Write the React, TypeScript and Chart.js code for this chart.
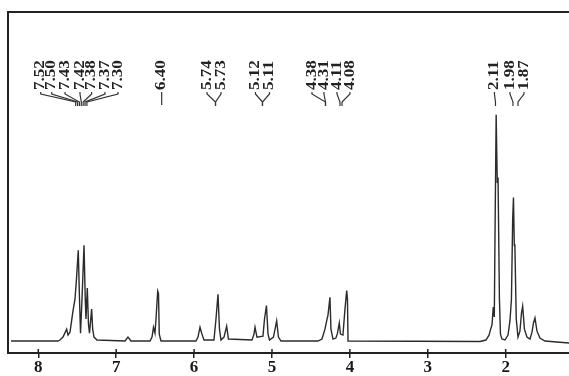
import React, { useEffect, useRef } from 'react';
import { Chart, registerables } from 'chart.js';

Chart.register(...registerables);

// Chemical shift (ppm) of each traced point of the spectrum
const shifts = [
  8.35, 7.747, 7.722, 7.683, 7.636, 7.619, 7.593, 7.555, 7.529, 7.51, 7.487, 7.471, 7.458, 7.439,
  7.413, 7.397, 7.388, 7.371, 7.356, 7.343, 7.315, 7.302, 7.285, 7.246, 6.887, 6.849, 6.81,
  6.566, 6.54, 6.521, 6.502, 6.489, 6.467, 6.457, 6.447, 6.425,
  5.976, 5.95, 5.924, 5.899, 5.873, 5.745, 5.719, 5.693, 5.674, 5.655, 5.616, 5.582, 5.559,
  5.257, 5.231, 5.218, 5.193, 5.116, 5.096, 5.071, 5.051, 5.032, 4.981, 4.94, 4.917, 4.885,
  4.41, 4.358, 4.32, 4.298, 4.281, 4.256, 4.243, 4.217, 4.179, 4.159, 4.136, 4.121, 4.089,
  4.063, 4.041, 4.031, 4.024, 4.012,
  2.33, 2.253, 2.214, 2.193, 2.176, 2.159, 2.146, 2.135, 2.122, 2.108, 2.098, 2.08, 2.067,
  2.048, 2.009, 1.97, 1.945, 1.926, 1.91, 1.9, 1.889, 1.882, 1.864, 1.842, 1.817, 1.797,
  1.782, 1.759, 1.727, 1.688, 1.662, 1.643, 1.624, 1.598, 1.56, 1.496, 1.187,
];

// Signal intensity (arbitrary units) at each traced point
const intensities = [
  0, 0, 0.3, 1.2, 3.6, 1.8, 2.7, 9.1, 12.7, 18.8, 27.6, 12.7, 2.4, 12.7,
  29.1, 12.7, 6.7, 16.1, 5.2, 2.4, 9.7, 3.6, 1.2, 0.3, 0, 1.2, 0,
  0, 1.2, 4.2, 2.4, 6.7, 15.2, 14.5, 2.1, 0,
  0, 1.2, 4.2, 2.1, 0.3, 0.3, 6.7, 14.2, 3.6, 0.3, 1.2, 4.5, 0.6,
  0.3, 2.1, 4.2, 1.2, 1.5, 6.7, 10.8, 2.1, 0.3, 1.2, 6.1, 1.2, 0,
  0, 0.6, 3.6, 6.1, 7.9, 13.3, 3.6, 0.6, 0.9, 2.4, 5.5, 2.1, 1.8,
  9.7, 15.3, 12.7, 0, 0,
  -0.15, 0.3, 1.8, 3.6, 4.8, 10.3, 7.3, 37, 68.8, 48, 49.7, 12.7, 2.1,
  0.6, 0.3, 1.8, 6.1, 12.7, 37, 43.6, 29, 29.4, 6.7, 1.2, 3.0, 8.5,
  10.6, 3.6, 1.2, 0.6, 2.7, 5.5, 7.0, 3.0, 0.9, 0, -0.6,
];

const xTicks = [8, 7, 6, 5, 4, 3, 2];

// Peak-pick labels, where each label text sits (ppm) and where its leader line ends (ppm)
const peakLabels = ['7.52', '7.50', '7.43', '7.42', '7.38', '7.37', '7.30', '6.40', '5.74', '5.73', '5.12', '5.11', '4.38', '4.31', '4.11', '4.08', '2.11', '1.98', '1.87'];
const labelShift = [7.969, 7.828, 7.657, 7.465, 7.315, 7.144, 6.977, 6.416, 5.834, 5.655, 5.212, 5.032, 4.487, 4.333, 4.166, 3.999, 2.144, 1.945, 1.765];
const leaderShift = [7.52, 7.496, 7.472, 7.448, 7.424, 7.4, 7.376, 6.416, 5.725, 5.725, 5.122, 5.122, 4.313, 4.313, 4.127, 4.101, 2.131, 1.906, 1.842];

const X_MIN = 1.187;
const X_MAX = 8.389;

const INK = '#222';
const SERIF = '"Liberation Serif", "Times New Roman", serif';

const decorPlugin = {
  id: 'nmrDecor',
  afterDraw(chart: any) {
    const { ctx, chartArea } = chart;
    const xs = chart.scales.x;
    ctx.save();
    ctx.strokeStyle = INK;
    // frame: left and top
    ctx.lineWidth = 2;
    ctx.beginPath();
    ctx.moveTo(chartArea.left, chartArea.bottom);
    ctx.lineTo(chartArea.left, chartArea.top);
    ctx.lineTo(chartArea.right, chartArea.top);
    ctx.stroke();
    // upper part of ticks crossing the axis
    ctx.lineWidth = 1.5;
    xTicks.forEach((v) => {
      const px = xs.getPixelForValue(v);
      ctx.beginPath();
      ctx.moveTo(px, chartArea.bottom - 4);
      ctx.lineTo(px, chartArea.bottom);
      ctx.stroke();
    });
    // peak labels with leaders
    const textBottom = chartArea.top + 78;
    const leadTop = chartArea.top + 80;
    ctx.lineWidth = 1.2;
    ctx.strokeStyle = '#333';
    peakLabels.forEach((t, i) => {
      const lx = xs.getPixelForValue(labelShift[i]);
      const tx = xs.getPixelForValue(leaderShift[i]);
      ctx.beginPath();
      if (Math.abs(lx - tx) < 0.5) {
        ctx.moveTo(lx, leadTop);
        ctx.lineTo(lx, t === '2.11' ? chartArea.top + 101 : chartArea.top + 93);
      } else {
        ctx.moveTo(lx, leadTop);
        ctx.lineTo(lx, leadTop + 2);
        ctx.lineTo(tx, leadTop + 10);
        ctx.lineTo(tx, leadTop + 14);
      }
      ctx.stroke();
      ctx.save();
      ctx.translate(lx, textBottom);
      ctx.rotate(-Math.PI / 2);
      ctx.scale(1.22, 1);
      ctx.font = 'bold 14px ' + SERIF;
      ctx.fillStyle = INK;
      ctx.textAlign = 'left';
      ctx.textBaseline = 'middle';
      ctx.fillText(t, 0, 0);
      ctx.restore();
    });
    ctx.restore();
  },
};

export default function App() {
  const ref = useRef<HTMLCanvasElement | null>(null);
  useEffect(() => {
    if (!ref.current) return;
    const chart = new Chart(ref.current, {
      type: 'line',
      data: {
        datasets: [
          {
            data: shifts.map((x, i) => ({ x, y: intensities[i] })),
            borderColor: '#2b2b2b',
            borderWidth: 1.4,
            pointRadius: 0,
            tension: 0,
            fill: false,
          },
        ],
      },
      options: {
        animation: false,
        responsive: false,
        maintainAspectRatio: false,
        layout: { padding: { left: 8, top: 12, right: 0, bottom: 3 } },
        plugins: { legend: { display: false }, tooltip: { enabled: false } },
        scales: {
          x: {
            type: 'linear',
            reverse: true,
            min: X_MIN,
            max: X_MAX,
            afterBuildTicks: (s: any) => {
              s.ticks = xTicks.map((v) => ({ value: v }));
            },
            ticks: {
              font: { family: SERIF, size: 17, weight: 'bold', lineHeight: 1 },
              color: '#1a1a1a',
              padding: 1,
              maxRotation: 0,
              autoSkip: false,
              callback: (v: any) => String(v),
            },
            grid: { display: true, drawOnChartArea: false, drawTicks: true, tickLength: 5, color: INK, lineWidth: 1.5 },
            border: { display: true, color: INK, width: 2 },
          },
          y: { display: false, min: -3.64, max: 100 },
        },
      },
      plugins: [decorPlugin],
    } as any);
    return () => chart.destroy();
  }, []);
  return (
    <div style={{ position: 'fixed', left: 0, top: 0, width: 569, height: 380, background: '#fff' }}>
      <canvas ref={ref} width={569} height={380} style={{ display: 'block' }} />
    </div>
  );
}
